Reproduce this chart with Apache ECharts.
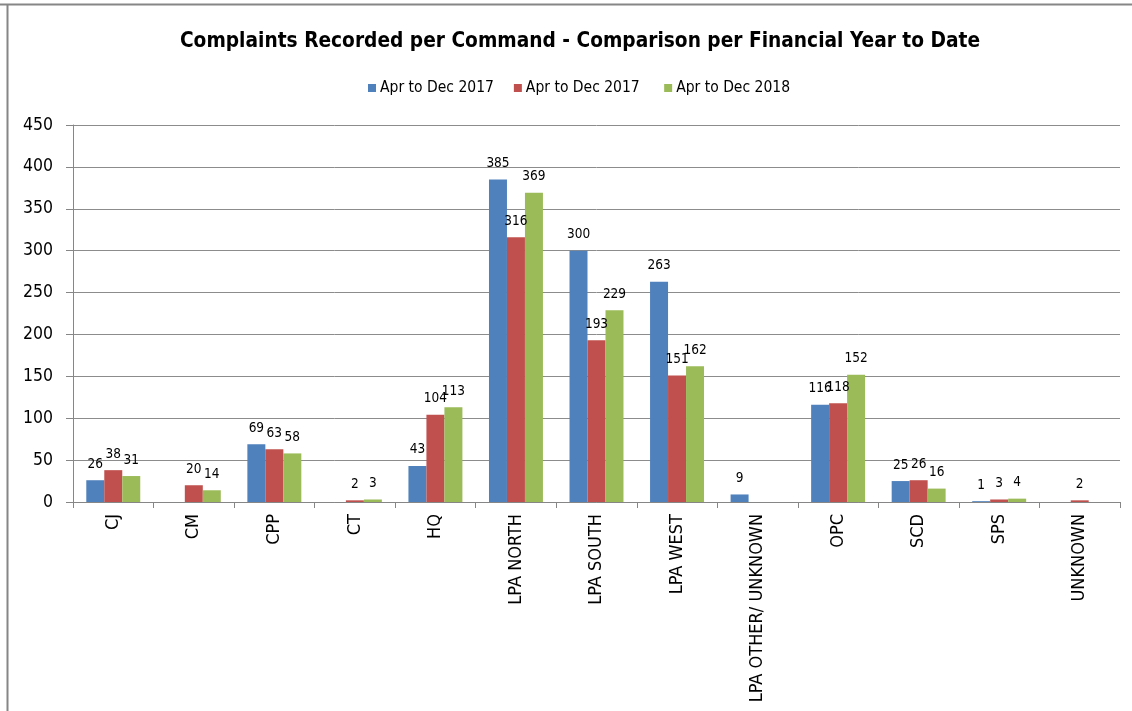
<!DOCTYPE html>
<html>
<head>
<meta charset="utf-8">
<script src="https://cdn.jsdelivr.net/npm/echarts@6/dist/echarts.min.js"></script>
<style>
  html, body { margin: 0; padding: 0; background: #fff; }
  #chart { width: 1132px; height: 711px; }
</style>
</head>
<body>
<div id="chart"></div>
<script>
// Commands along the x axis
const categories = ['CJ', 'CM', 'CPP', 'CT', 'HQ', 'LPA NORTH', 'LPA SOUTH', 'LPA WEST',
  'LPA OTHER/ UNKNOWN', 'OPC', 'SCD', 'SPS', 'UNKNOWN'];

// Complaints recorded per command (null = no entry for that period)
const seriesNames = ['Apr to Dec 2017', 'Apr to Dec 2017', 'Apr to Dec 2018'];
const valuesA = [26, null, 69, null, 43, 385, 300, 263, 9, 116, 25, 1, null];
const valuesB = [38, 20, 63, 2, 104, 316, 193, 151, null, 118, 26, 3, 2];
const valuesC = [31, 14, 58, 3, 113, 369, 229, 162, null, 152, 16, 4, null];

const yMin = 0, yMax = 450, yStep = 50;

const colors = ['#4F81BD', '#C0504D', '#9BBB59'];
const baseFont = '"DejaVu Sans Condensed", "Liberation Sans", sans-serif';

const chart = echarts.init(document.getElementById('chart'), null, { renderer: 'canvas' });

function barSeries(name, data, color) {
  return {
    name: name,
    type: 'bar',
    data: data,
    barGap: '0%',
    barCategoryGap: '33%',
    itemStyle: { color: color },
    label: {
      show: true,
      position: 'top',
      distance: 9,
      color: '#000',
      fontFamily: baseFont,
      fontSize: 13.5
    }
  };
}

chart.setOption({
  animation: false,
  color: colors,
  title: {
    text: 'Complaints Recorded per Command - Comparison per Financial Year to Date',
    left: 575,
    textAlign: 'center',
    top: 26,
    textStyle: { fontFamily: baseFont, fontWeight: 'bold', fontSize: 20.7, color: '#000' }
  },
  legend: {
    top: 75,
    left: 363,
    itemWidth: 8,
    itemHeight: 8,
    itemGap: 20,
    icon: 'rect',
    textStyle: { fontFamily: baseFont, fontSize: 15.5, color: '#000', padding: [0, 0, 0, -1] },
    data: [
      { name: seriesNames[0], itemStyle: { color: colors[0] } },
      { name: seriesNames[1] + ' ', itemStyle: { color: colors[1] } },
      { name: seriesNames[2], itemStyle: { color: colors[2] } }
    ]
  },
  grid: { left: 73, right: 12, top: 125, bottom: 209, containLabel: false },
  xAxis: {
    type: 'category',
    data: categories,
    axisLine: { show: true, lineStyle: { color: '#868686', width: 1 } },
    axisTick: { show: true, length: 6, lineStyle: { color: '#868686' } },
    axisLabel: {
      rotate: 90,
      interval: 0,
      margin: 12,
      color: '#000',
      fontFamily: baseFont,
      fontSize: 18
    }
  },
  yAxis: {
    type: 'value',
    min: yMin,
    max: yMax,
    interval: yStep,
    axisLine: { show: true, lineStyle: { color: '#868686' } },
    axisTick: { show: true, length: 7, lineStyle: { color: '#868686' } },
    axisLabel: { color: '#000', fontFamily: baseFont, fontSize: 17.5, margin: 20 },
    splitLine: { show: true, lineStyle: { color: '#8c8c8c', width: 1 } }
  },
  series: [
    barSeries(seriesNames[0], valuesA, colors[0]),
    barSeries(seriesNames[1] + ' ', valuesB, colors[1]),
    barSeries(seriesNames[2], valuesC, colors[2])
  ],
  graphic: [
    { type: 'line', shape: { x1: 0, y1: 4.5, x2: 1132, y2: 4.5 }, style: { stroke: '#868686', lineWidth: 2 } },
    { type: 'line', shape: { x1: 7.5, y1: 4, x2: 7.5, y2: 711 }, style: { stroke: '#868686', lineWidth: 2 } }
  ]
});
</script>
</body>
</html>
